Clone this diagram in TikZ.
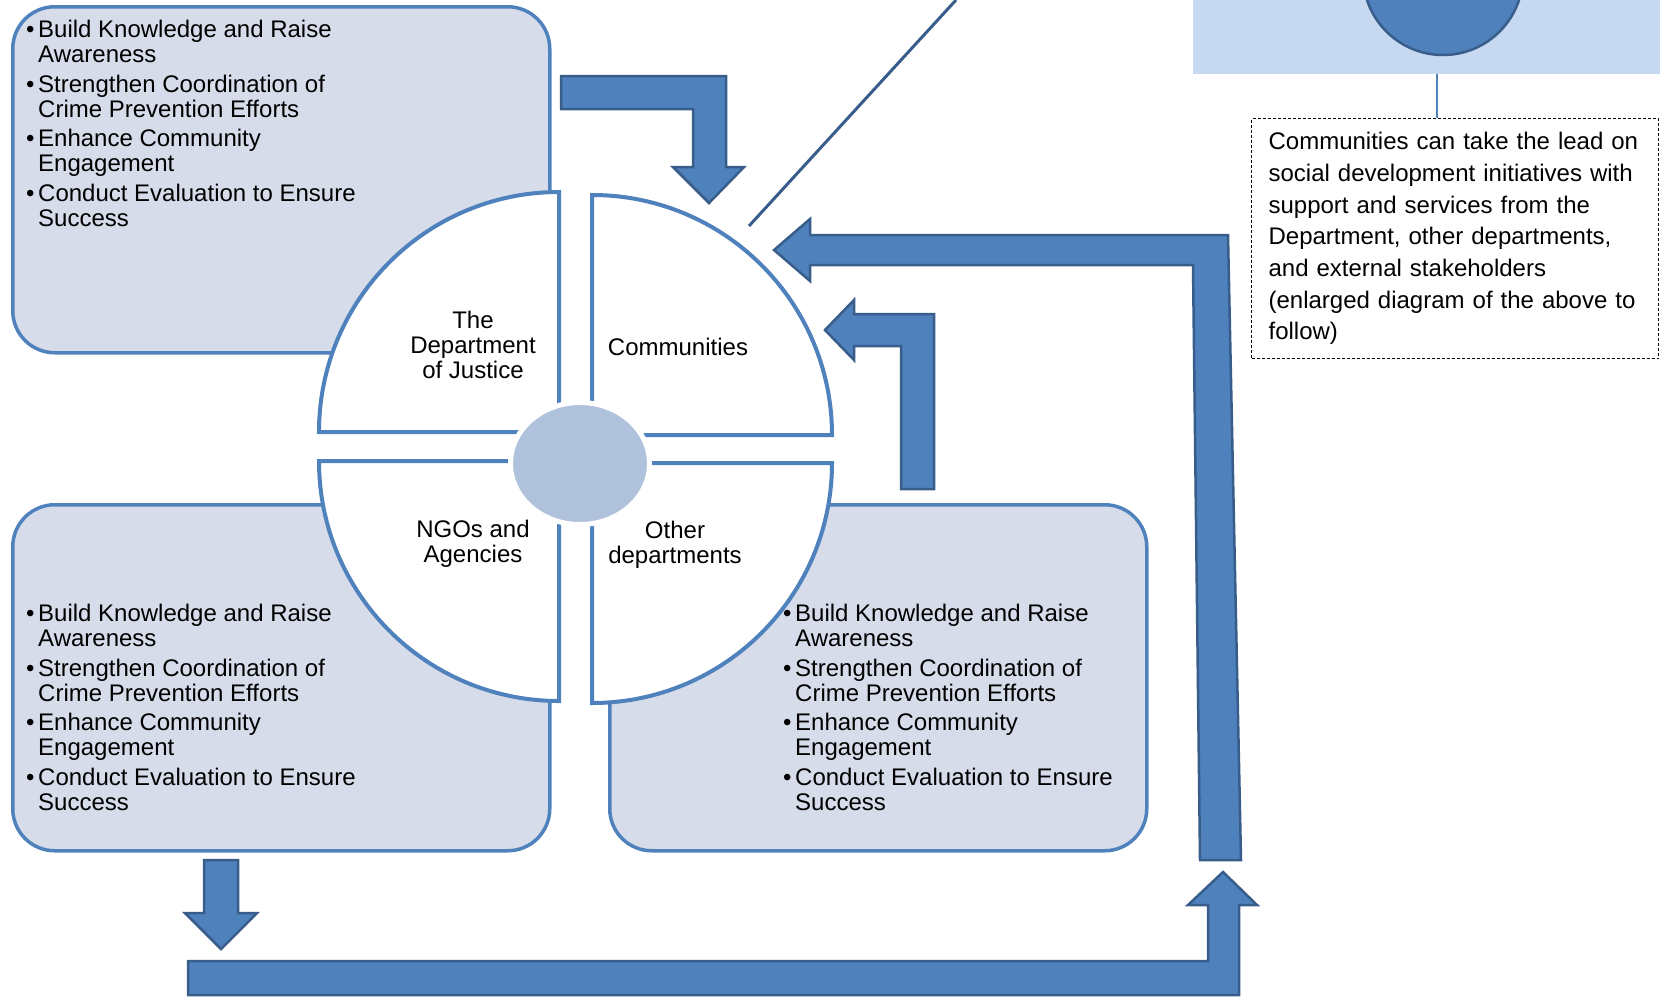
\documentclass[tikz,border=0pt]{standalone}
\usepackage{fontspec}
\setmainfont{Liberation Sans}
\usetikzlibrary{positioning,shapes.geometric}

\definecolor{boxfill}{HTML}{D6DCE9}
\definecolor{boxline}{HTML}{4F81BD}
\definecolor{arrowfill}{HTML}{4F81BD}
\definecolor{arrowline}{HTML}{385D8A}
\definecolor{hubfill}{HTML}{B0C1DC}
\definecolor{bannerfill}{HTML}{C6D9F1}

\tikzset{
  goalbox/.style={draw=boxline, fill=boxfill, line width=3.5pt, rounded corners=42pt,
    anchor=north west, minimum width=537pt, minimum height=346pt},
  goaltext/.style={anchor=base west, inner sep=0pt, font=\fontsize{24}{25.4}\selectfont},
  quarter/.style={draw=boxline, fill=white, line width=4pt},
  quartertext/.style={align=center, inner sep=0pt, font=\fontsize{24}{25.4}\selectfont},
  blockarrow/.style={draw=arrowline, fill=arrowfill, line width=2.5pt},
  descbox/.style={draw=black, dash pattern=on 3pt off 2pt, line width=1.2pt,
    anchor=north west, align=left, text width=373pt, inner xsep=17pt,
    minimum height=240pt, font=\fontsize{24}{31.7}\selectfont},
}

\newcommand{\goallist}{%
  \begin{tabular}[t]{@{}l@{\hspace{3.6pt}}l@{}}
  \textbullet & Build Knowledge and Raise\\
   & Awareness\\[3.7pt]
  \textbullet & Strengthen Coordination of\\
   & Crime Prevention Efforts\\[3.7pt]
  \textbullet & Enhance Community\\
   & Engagement\\[3.7pt]
  \textbullet & Conduct Evaluation to Ensure\\
   & Success
  \end{tabular}}

\begin{document}
\begin{tikzpicture}[x=1pt, y=-1pt]
  \useasboundingbox (0,0) rectangle (1660,997);
  \clip (0,0) rectangle (1660,997);

  % goal boxes
  \node[goalbox] (justicebox) at (11,5) {};
  \node[goalbox] (ngobox) at (11,503) {};
  \node[goalbox] (deptbox) at (608,503) {};
  \node[goaltext] (justicegoals) at (26,37.5) {\goallist};
  \node[goaltext] (ngogoals) at (26,621.5) {\goallist};
  \node[goaltext] (deptgoals) at (783,621.5) {\goallist};

  % the four quarters
  \draw[quarter] (559,432) -- ++(-240,0) arc[start angle=180, end angle=90, radius=240pt] -- cycle;
  \draw[quarter] (592,435) -- ++(0,-240) arc[start angle=90, end angle=0, radius=240pt] -- cycle;
  \draw[quarter] (559,461) -- ++(-240,0) arc[start angle=180, end angle=270, radius=240pt] -- cycle;
  \draw[quarter] (592,463) -- ++(240,0) arc[start angle=0, end angle=-90, radius=240pt] -- cycle;
  \node[ellipse, fill=hubfill, draw=white, line width=5pt, minimum width=139pt,
    minimum height=122pt] (hub) at (580,463.5) {};

  \node[quartertext] (justice) at (473,345) {The\\Department\\of Justice};
  \node[quartertext] (communities) at (678,347) {Communities};
  \node[quartertext] (ngos) at (473,544) {NGOs and\\Agencies};
  \node[quartertext] (otherdepts) at (675,545) {Other\\departments};

  % block arrows
  \draw[blockarrow] (561,76) -- (726,76) -- (726,167) -- (744,167) -- (709,203)
    -- (673,167) -- (693,167) -- (693,109) -- (561,109) -- cycle;
  \draw[blockarrow] (1228,235) -- (1241,860) -- (1200,860) -- (1193,265) -- (810,265)
    -- (810,281) -- (774,250) -- (810,219) -- (810,235) -- cycle;
  \draw[blockarrow] (934,489) -- (934,314) -- (854,314) -- (854,300) -- (825,330)
    -- (854,360) -- (854,346) -- (901,346) -- (901,489) -- cycle;
  \draw[blockarrow] (204,860) -- (238,860) -- (238,913) -- (257,913) -- (221,949)
    -- (185,913) -- (204,913) -- cycle;
  \draw[blockarrow] (188,961) -- (1208,961) -- (1208,905) -- (1188,905) -- (1223,872)
    -- (1257,905) -- (1239,905) -- (1239,995) -- (188,995) -- cycle;

  % enlarged view
  \coordinate (callouttop) at (956,0);
  \coordinate (calloutfoot) at (749,226);
  \draw[arrowline, line width=3pt] (callouttop) -- (calloutfoot);
  \fill[bannerfill] (1193,0) rectangle (1660,74);
  \coordinate (bannerfoot) at (1437,74);
  \node[circle, fill=arrowfill, draw=arrowline, line width=2.5pt, minimum size=160pt] (rolecircle) at (1443,-25) {};
  \node[descbox] (desc) at (1251,118) {Communities can take the lead on\\
    social development initiatives with\\
    support and services from the\\
    Department, other departments,\\
    and external stakeholders\\
    (enlarged diagram of the above to\\
    follow)};
  \draw[boxline, line width=1.5pt] (bannerfoot) -- (bannerfoot |- desc.north);
\end{tikzpicture}
\end{document}
